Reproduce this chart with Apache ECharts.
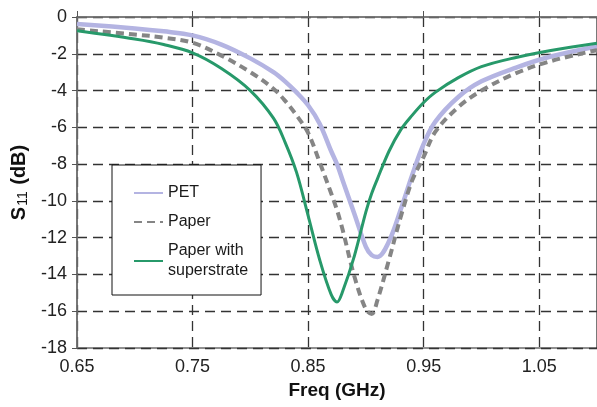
<!DOCTYPE html>
<html>
<head>
<meta charset="utf-8">
<script src="https://cdn.jsdelivr.net/npm/echarts@6/dist/echarts.min.js"></script>
<style>
  html, body { margin: 0; padding: 0; background: #fff; }
  #chart { width: 597px; height: 407px; }
</style>
</head>
<body>
<div id="chart"></div>
<script>
const FONT = '"Liberation Sans", Arial, sans-serif'

const freq = [0.65, 0.70, 0.725, 0.75, 0.775, 0.80, 0.82, 0.83, 0.84, 0.85, 0.86, 0.87, 0.875, 0.88,
  0.89, 0.90, 0.905, 0.91, 0.92, 0.93, 0.94, 0.95, 0.96, 0.98, 1.00, 1.03, 1.06, 1.10]

const pet = [-0.38, -0.62, -0.78, -1.0, -1.5, -2.25, -3.0, -3.5, -4.1, -4.8, -5.8, -7.3, -8.0, -8.9,
  -10.7, -12.5, -12.95, -13.05, -12.2, -10.5, -8.6, -6.9, -5.7, -4.35, -3.5, -2.75, -2.15, -1.6]

const paper = [-0.67, -0.95, -1.12, -1.4, -2.1, -3.0, -3.9, -4.55, -5.35, -6.3, -7.9, -9.6, -10.5, -11.6,
  -14.1, -15.9, -16.15, -15.4, -13.2, -10.9, -8.9, -7.6, -6.25, -4.9, -4.0, -3.05, -2.4, -1.8]

const superstrate = [-0.75, -1.2, -1.5, -1.95, -2.8, -4.0, -5.5, -6.8, -8.45, -10.8, -13.2, -15.1, -15.5, -14.9,
  -13.0, -10.6, -9.6, -8.8, -7.3, -6.15, -5.35, -4.65, -4.1, -3.3, -2.7, -2.2, -1.82, -1.42]

const xTicks = [0.65, 0.75, 0.85, 0.95, 1.05]

const pairs = (vals) => freq.map((f, i) => [f, vals[i]])

const gridLine = { show: true, lineStyle: { color: '#333', width: 1.3, type: [10, 6] } }

const chart = echarts.init(document.getElementById('chart'))

chart.setOption({
  animation: false,
  backgroundColor: '#fff',
  grid: {
    left: 77, right: -3, top: 17, bottom: 59,
    show: true, borderColor: '#222', borderWidth: 1.2, backgroundColor: 'transparent'
  },
  legend: {
    orient: 'vertical',
    left: 112,
    top: 165,
    padding: [18, 13, 14, 21],
    itemGap: 9,
    itemWidth: 29,
    itemHeight: 14,
    backgroundColor: '#fff',
    borderColor: '#111',
    borderWidth: 1,
    borderRadius: 0,
    itemStyle: { opacity: 0 },
    textStyle: { fontFamily: FONT, fontSize: 16, color: '#1a1a1a', lineHeight: 20 },
    data: ['PET', 'Paper', 'Paper with\nsuperstrate']
  },
  xAxis: {
    type: 'value',
    min: 0.65,
    max: 1.1,
    name: 'Freq (GHz)',
    nameLocation: 'middle',
    nameGap: 31,
    nameTextStyle: { fontFamily: FONT, fontSize: 19, fontWeight: 'bold', color: '#111' },
    axisLine: { show: true, lineStyle: { color: '#777', width: 1.5 } },
    axisTick: { show: true, inside: true, length: 6, customValues: xTicks, lineStyle: { color: '#555' } },
    axisLabel: {
      customValues: xTicks,
      margin: 10,
      fontFamily: FONT, fontSize: 18, color: '#222',
      formatter: (v) => v.toFixed(2)
    },
    splitLine: gridLine
  },
  yAxis: {
    type: 'value',
    min: -18,
    max: 0,
    interval: 2,
    name: '{b|S}{s|11}{b| (dB)}',
    nameLocation: 'middle',
    nameGap: 46,
    nameTextStyle: {
      rich: {
        b: { fontFamily: FONT, fontSize: 20, fontWeight: 'bold', color: '#111' },
        s: { fontFamily: FONT, fontSize: 14, color: '#111', verticalAlign: 'bottom', padding: [8, 1, 0, 1] }
      }
    },
    axisLine: { show: true, lineStyle: { color: '#777', width: 1.5 } },
    axisTick: { show: true, length: 5, lineStyle: { color: '#555' } },
    axisLabel: { margin: 10, fontFamily: FONT, fontSize: 18, color: '#222' },
    splitLine: gridLine
  },
  series: [
    {
      name: 'PET',
      type: 'line',
      smooth: 0.35,
      symbol: 'none',
      data: pairs(pet),
      lineStyle: { color: '#b4b4e2', width: 4.5 },
      itemStyle: { color: '#b4b4e2' },
      z: 3
    },
    {
      name: 'Paper',
      type: 'line',
      smooth: 0.35,
      symbol: 'none',
      data: pairs(paper),
      lineStyle: { color: '#858585', width: 4, type: [8, 5] },
      itemStyle: { color: '#858585' },
      z: 4
    },
    {
      name: 'Paper with\nsuperstrate',
      type: 'line',
      smooth: 0.35,
      symbol: 'none',
      data: pairs(superstrate),
      lineStyle: { color: '#27996a', width: 3 },
      itemStyle: { color: '#27996a' },
      z: 5
    }
  ]
})
</script>
</body>
</html>
